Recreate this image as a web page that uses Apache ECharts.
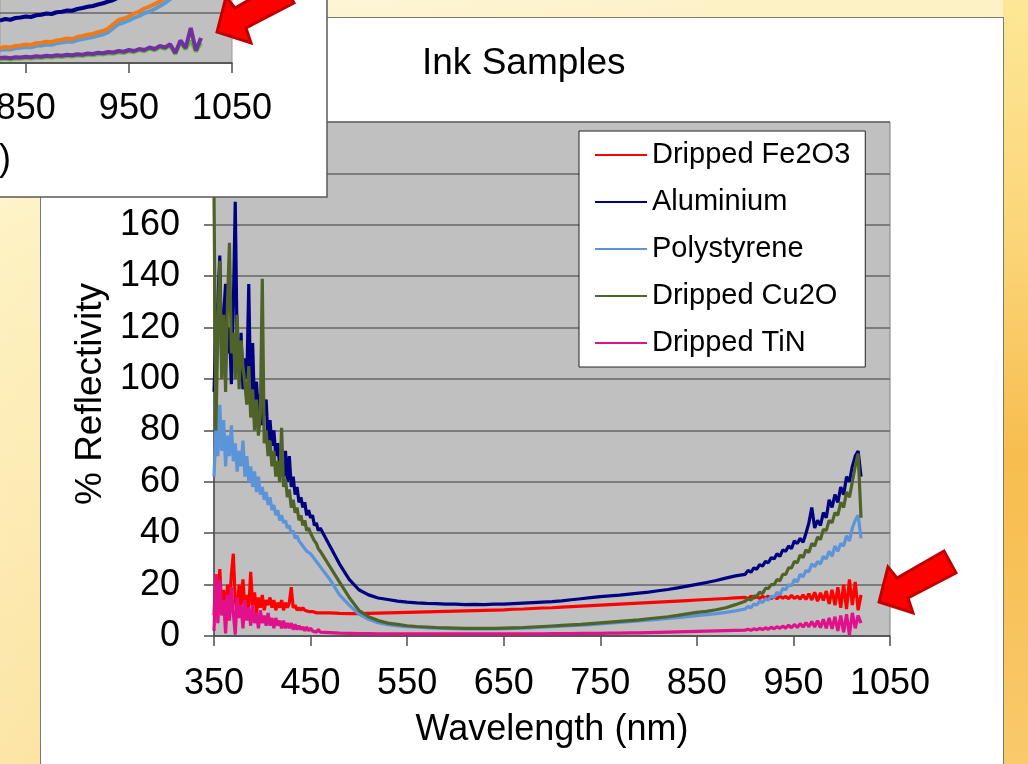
<!DOCTYPE html>
<html>
<head>
<meta charset="utf-8">
<script src="https://cdn.jsdelivr.net/npm/echarts@6/dist/echarts.min.js"></script>
<style>
html,body{margin:0;padding:0;width:1028px;height:764px;overflow:hidden;}
#bg{position:absolute;left:0;top:0;width:1028px;height:764px;
  background:linear-gradient(90deg, rgba(255,255,255,0.45) 0%, rgba(255,255,255,0) 70%),
             linear-gradient(180deg,#fdf2c8 0%,#fde68f 35%,#f9d05f 100%);}
#rstrip{position:absolute;left:1003px;top:0;width:25px;height:764px;
  background:linear-gradient(180deg,#fde796 0%,#fbd67a 30%,#f7bd4e 60%,#f9c96b 100%);}
#panel{position:absolute;left:40px;top:17px;width:962px;height:760px;background:#fff;border:1px solid #7a7a7a;}
#chart{position:absolute;left:0;top:0;width:1028px;height:764px;}
</style>
</head>
<body>
<div id="bg"></div>
<div id="rstrip"></div>
<div id="panel"></div>
<div id="chart"></div>
<script>
// ---------- main chart data (wavelength in nm, % reflectivity) ----------
const wlA = [350,352,354,356,358,360,362,364,366,368,370,372,374,376,378,380,382,384,386,388,390,392,394,396,398,400,402,404,406,408,410,412,414,416,418,420,422,424,426,428,430,432,434,436,438,440,442,444,446,448,450,452,454,456,458,460];
const wlB = [470,480,490,500,510,520,530,540,550,560,570,580,590,600,610,620,630,640,650,660,670,680,690,700,710,720,730,740,750,760,770,780,790,800,810,820,830,840,850,860,870,880,890];
const wlC = [900,903,906,909,912,915,918,921,924,927,930,933,936,939,942,945,948,951,954,957,960,963,966,969,972,975,978,981,984,987,990,993,996,999,1002,1005,1008,1011,1014,1017,1020];

const seriesNames = ['Dripped Fe2O3','Aluminium','Polystyrene','Dripped Cu2O','Dripped TiN'];

const fe2o3A = [8,24,12,26,10,18,6,20,12,24, 32,14,9,20,12,22,10,16,11,25, 12,17,9,15,11,16,10,14,12,15, 11,14,10,13,11,14,10,13,11,13, 19,11,12,10,11,10,11,10,10.5,9.5, 10,9.5,10,9,9.5,9];
const fe2o3B = [9,8.8,8.7,8.7,8.8,8.9,9,9.1,9.2,9.3, 9.4,9.5,9.6,9.7,9.8,9.9,10,10.1,10.2,10.4, 10.5,10.7,10.9,11,11.2,11.4,11.6,11.8,12,12.2, 12.4,12.6,12.8,13,13.2,13.4,13.6,13.8,14,14.2, 14.4,14.6,14.8];
const fe2o3C = [15,14.5,15.5,14.8,15.3,14.6,15.4,14.8,15.5,14.6, 15.2,14.5,15.6,14.7,15.4,14.5,15.8,14.6,15.5,14.4, 16,14.2,16.5,14,17,13.5,16.8,13.8,17.5,12.5, 18,12,19,11,20,10.5,22,12,21,10, 16];

const aluA = [95,118,130,148,105,125,137,110,120,98, 128,169,112,104,118,96,108,100,137,92, 114,88,99,86,94,82,88,92,76,84, 74,80,70,75,66,70,62,72,60,70, 58,62,55,58,52,54,50,52,47,49, 46,47,43,44,41,42];
const aluB = [35,28,22,18,16,14.8,14.2,13.6,13.2,12.9, 12.7,12.6,12.4,12.4,12.2,12.3,12.2,12.4,12.4,12.6, 12.8,13,13.2,13.4,13.7,14.1,14.5,14.9,15.3,15.6, 15.9,16.3,16.7,17.1,17.6,18.1,18.7,19.4,20.1,20.8, 21.6,22.5,23.4];
const aluC = [24,25.5,24.8,26.5,26,27.8,27.2,29,28.5,30.5, 30,32,31,33.5,33,35,34,37,36,38, 36.5,40,44,50,42,45,43,48,46,53, 50,55,52,58,55,62,60,66,70,72, 62];

const polyA = [62,80,70,90,72,84,66,78,70,82, 68,75,64,72,66,76,62,70,60,66, 58,64,56,62,55,58,53,56,51,54, 49,51,47,49,45,47,44,45,42,43, 40,41,38,39,37,37,35,35,33,33, 32,31,30,29,28,27];
const polyB = [22,16,12,8.5,6.5,5.2,4.4,3.9,3.6,3.4, 3.2,3.1,3,2.9,2.8,2.8,2.8,2.8,2.9,3, 3.1,3.2,3.4,3.6,3.8,4,4.2,4.4,4.7,5, 5.3,5.6,5.9,6.2,6.5,6.8,7.1,7.5,7.9,8.3, 8.7,9.2,9.8];
const polyC = [10.5,11.5,11,12.5,12,13.5,13,14.5,14,15.5, 15,17,16,18.5,18,20,19.5,22,21,24, 23,25.5,25,28,27,29,28,31,30,33, 31,35,33,36,35,39,37,42,45,47, 38];

const cu2oA = [172,80,120,146,100,125,95,130,153,110, 118,100,125,96,115,105,98,90,105,85, 96,80,92,78,86,139,75,80,70,76, 66,72,62,68,60,81,58,61,54,57, 50,53,48,50,45,47,43,45,41,42, 40,40,37,36,34,33];
const cu2oB = [27,21,15,10,7.5,6,5,4.5,4,3.7, 3.5,3.3,3.2,3.1,3,3,3,3,3.1,3.2, 3.3,3.5,3.7,3.9,4.1,4.3,4.5,4.8,5.1,5.4, 5.7,6,6.3,6.7,7.1,7.5,8,8.6,9.2,9.6, 10.2,11,12.2];
const cu2oC = [13.5,14.5,14,15.5,15.5,17,16.5,18.5,18.5,20, 20,22,21.5,24,24,26.5,26.5,29,28.5,31.5, 30.5,33.5,32.5,36,35,38.5,37.5,41.5,41,45, 44,48,47,52,50,56,54,60,66,71, 46];

const tinA = [2,24,5,22,8,14,1,16,6,19, 9,0.5,15,7,12,3,14,6,11,4, 12,5,9,3,10,5,8,4,9,4, 7,3,7,4,6,3,6,3,5,3, 5,2.5,4.5,2.5,4,2.5,3.5,2,3.5,2, 3,2,2.5,1.5,2.5,1.5];
const tinB = [1.3,1.1,1,0.9,0.9,0.8,0.8,0.8,0.8,0.8, 0.8,0.8,0.8,0.8,0.8,0.8,0.8,0.8,0.8,0.8, 0.8,0.8,0.8,0.9,0.9,0.9,1,1,1,1.1, 1.1,1.2,1.2,1.3,1.4,1.5,1.6,1.7,1.8,1.9, 2,2.1,2.2];
const tinC = [2.3,2.6,2.2,2.8,2.4,3,2.5,3.2,2.6,3.4, 2.8,3.6,3,3.8,3.1,4.2,3.2,4.5,3.3,4.8, 3.5,5.2,3.6,5.6,3.5,6,3.2,6.5,3,7, 2.8,7.5,2,8,1.5,8.5,0.5,9,3,8, 5];

const xTicks = [350,450,550,650,750,850,950,1050];

// ---------- partial chart visible in the top-left inset ----------
const insetWl = [825,830,835,840,845,850,855,860,865,870,875,880,885,890,895,900,905,910,915,920,925,930,935,940,945,950,955,960,965,970,975,980,985,990,995,1000,1005,1010,1015,1020];
const insetNavy = [17,17.6,17.3,18,18.2,18.6,18.4,19.1,19.3,19.8, 19.6,20.3,20.5,21,20.9,21.6,22,22.5,22.8,23.4, 23.9,24.6,25.2,26.2,27.5,29,31,33,35,37, 39,41,43,45,47,49,51,53,55,57];
const insetOrange = [6,6.4,6.2,6.8,7,7.4,7.2,7.9,8.1,8.5, 8.4,9,9.3,9.8,9.6,10.4,10.8,11.3,11.6,12.3, 12.8,13.8,15.6,17.2,17.8,18.6,19.8,20.6,21.8,22.6, 23.6,24.6,26,28,30,32,34,36,38,40];
const insetBlue = [5.2,5.5,5.4,5.9,6.1,6.4,6.3,6.9,7,7.4, 7.3,7.9,8.2,8.6,8.5,9.2,9.6,10,10.4,11, 11.4,12.3,14,15.6,16.2,17,18,18.8,19.9,20.6, 21.6,22.8,24,25.5,27,28.5,30,32,34,36];
const insetPurple = [2,2.2,1.9,2.3,2.2,2.5,2.3,2.7,2.5,2.9, 2.7,3.1,2.9,3.3,3.1,3.5,3.3,3.8,3.6,4.1, 3.9,4.4,4.2,4.8,4.5,5.2,4.8,5.6,5.2,6.2, 5.6,6.8,6.2,7.5,4,9,6,14,5,10];
const insetGreen = [1.5,1.7,1.4,1.8,1.7,2,1.8,2.2,2,2.4, 2.2,2.6,2.4,2.8,2.6,3,2.8,3.3,3.1,3.6, 3.4,3.9,3.7,4.3,4,4.7,4.3,5.1,4.7,5.7, 5.1,6.3,5.7,7,3.5,8,5.5,9,4.5,8];
const insetTicks = [850,950,1050];

// ---------- build ----------
const FONT = "'Liberation Sans', Arial, sans-serif";
const wl = wlA.concat(wlB, wlC);
function pairs(x, v){ return x.map((w,i)=>[w, v[i]]); }
const plain = v => String(v);
const mainVals = [
  fe2o3A.concat(fe2o3B, fe2o3C),
  aluA.concat(aluB, aluC),
  polyA.concat(polyB, polyC),
  cu2oA.concat(cu2oB, cu2oC),
  tinA.concat(tinB, tinC)
];
const mainColors = ['#ff0000','#000080','#5b94d8','#4f6228','#e0118a'];

const series = seriesNames.map((n,i)=>({
  name:n, type:'line', xAxisIndex:0, yAxisIndex:0, data:pairs(wl, mainVals[i]),
  symbol:'none', showSymbol:false, silent:true, z:2+i*0.01,
  lineStyle:{color:mainColors[i], width:3.2}, itemStyle:{color:mainColors[i]}
}));
const insetSets = [
  ['inset-navy', insetNavy, '#000080'],
  ['inset-blue', insetBlue, '#5b9bd5'],
  ['inset-orange', insetOrange, '#ee7a1a'],
  ['inset-green', insetGreen, '#66bb33'],
  ['inset-purple', insetPurple, '#7030a0']
];
insetSets.forEach((s,i)=>series.push({
  name:s[0], type:'line', xAxisIndex:1, yAxisIndex:1, data:pairs(insetWl, s[1]),
  symbol:'none', showSymbol:false, silent:true, z:62+i*0.01,
  lineStyle:{color:s[2], width:4}, itemStyle:{color:s[2]}
}));

// arrow outline relative to its tip
const arrowShape = [[0,0],[9,-35],[18,-24],[65,-51],[77,-29],[29,-4],[34,11]];
function arrow(tx, ty){
  return {type:'polygon', z:70, silent:true,
    shape:{points:arrowShape.map(p=>[p[0]+tx, p[1]+ty])},
    style:{fill:'#ff0000', stroke:'#c00000', lineWidth:3, lineJoin:'miter'}};
}

const axisCol = '#4d4d4d';
const chart = echarts.init(document.getElementById('chart'), null, {renderer:'canvas'});
chart.setOption({
  animation:false,
  backgroundColor:'transparent',
  title:{text:'Ink Samples', left:422, top:45, padding:0,
    textStyle:{fontFamily:FONT, fontSize:37, fontWeight:'normal', color:'#000'}},
  legend:{
    data:seriesNames.map((n,i)=>({name:n, icon:'rect', itemStyle:{color:mainColors[i], borderWidth:0}})),
    orient:'vertical', left:579, top:131, padding:[9,15,9,16],
    backgroundColor:'#fff', borderColor:'#222', borderWidth:1, borderRadius:0,
    itemWidth:52, itemHeight:2, itemGap:17, selectedMode:false,
    textStyle:{fontFamily:FONT, fontSize:29, color:'#000', lineHeight:30},
    z:10
  },
  grid:[
    {left:214, top:122, width:676, height:514, show:true, backgroundColor:'#c0c0c0',
     borderColor:'#808080', borderWidth:1, containLabel:false, outerBoundsMode:'none'},
    {left:0, top:-37, width:232, height:100, show:true, backgroundColor:'#c0c0c0',
     borderColor:'#9a9a9a', borderWidth:1, containLabel:false, outerBoundsMode:'none', z:60}
  ],
  xAxis:[
    {type:'value', gridIndex:0, min:350, max:1050, interval:100,
     axisLine:{show:true, lineStyle:{color:axisCol, width:1.5}},
     axisTick:{show:true, inside:false, length:10, customValues:xTicks, lineStyle:{color:axisCol, width:1.5}},
     axisLabel:{margin:30, fontFamily:FONT, fontSize:36, color:'#000', customValues:xTicks, formatter:plain, showMinLabel:true, showMaxLabel:true},
     splitLine:{show:false},
     name:'Wavelength (nm)', nameLocation:'middle', nameGap:76,
     nameTextStyle:{fontFamily:FONT, fontSize:36, color:'#000'}},
    {type:'value', gridIndex:1, min:825, max:1050, z:60,
     axisLine:{show:true, lineStyle:{color:axisCol, width:1.5}},
     axisTick:{show:true, length:10, customValues:insetTicks, lineStyle:{color:axisCol, width:1.5}},
     axisLabel:{margin:28, fontFamily:FONT, fontSize:36, color:'#000', customValues:insetTicks, formatter:plain, showMinLabel:true, showMaxLabel:true},
     splitLine:{show:false}}
  ],
  yAxis:[
    {type:'value', gridIndex:0, min:0, max:200, interval:20,
     axisLine:{show:true, lineStyle:{color:axisCol, width:1.5}},
     axisTick:{show:true, inside:false, length:10, lineStyle:{color:axisCol, width:1.5}},
     axisLabel:{margin:34, fontFamily:FONT, fontSize:36, color:'#000', formatter:plain},
     splitLine:{show:true, lineStyle:{color:'#666666', width:1.5}},
     name:'% Reflectivity', nameLocation:'middle', nameGap:104, nameRotate:90,
     nameTextStyle:{fontFamily:FONT, fontSize:37, color:'#000', padding:[0,30,0,0]}},
    {type:'value', gridIndex:1, min:0, max:40, interval:20, z:60,
     axisLine:{show:false}, axisTick:{show:false}, axisLabel:{show:false},
     splitLine:{show:true, lineStyle:{color:'#666666', width:1.5}}}
  ],
  series:series,
  graphic:[
    {type:'rect', z:50, silent:true, shape:{x:-5, y:-5, width:332, height:202},
     style:{fill:'#ffffff', stroke:'#5a5a5a', lineWidth:1.5}},
    {type:'text', z:60, silent:true,
     style:{text:'Wavelength (nm)', x:11, y:160, align:'right', verticalAlign:'middle',
            fontFamily:FONT, fontSize:36, fill:'#000'}},
    arrow(217, 32),
    arrow(879, 602)
  ]
});
</script>
</body>
</html>
